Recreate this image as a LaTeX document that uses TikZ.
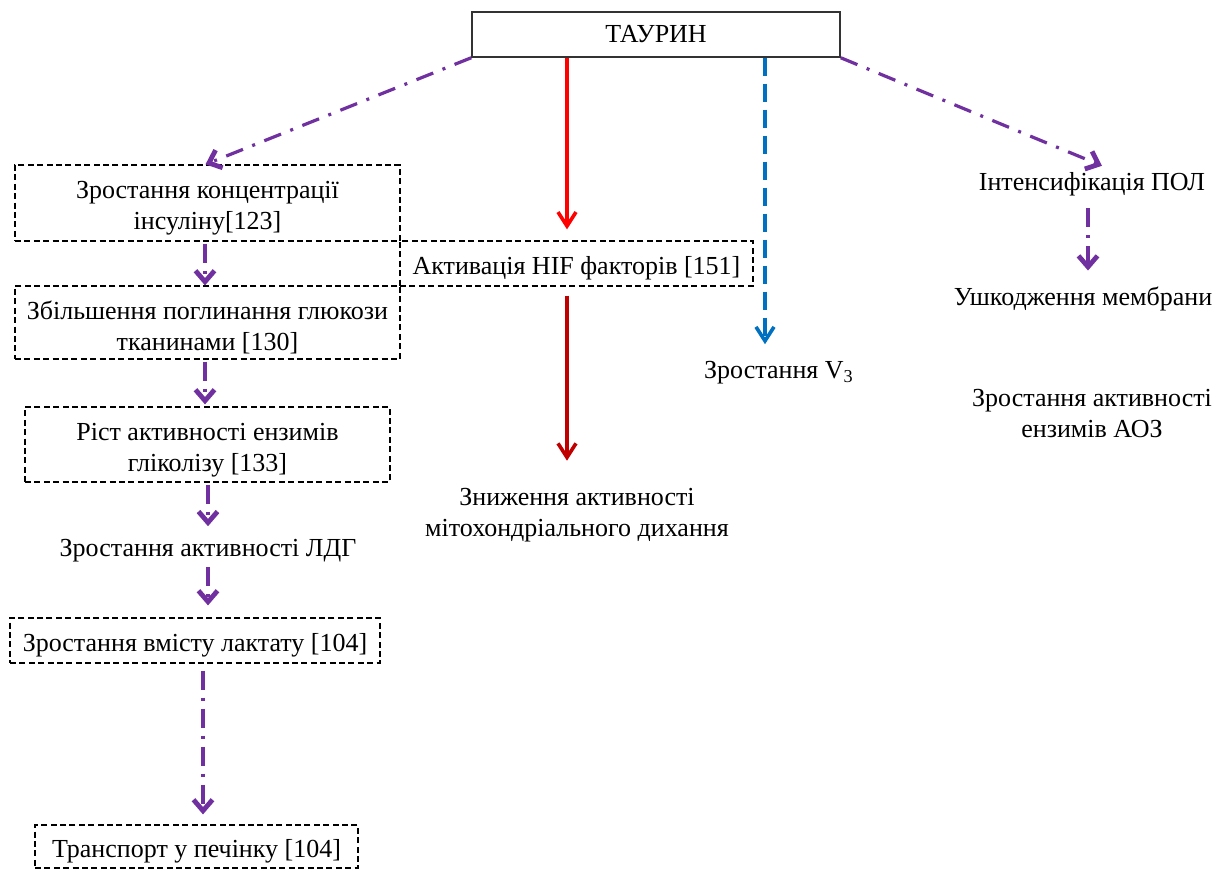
\documentclass[tikz,border=0pt]{standalone}
\usepackage{fontspec}
\setmainfont{Liberation Serif}
\usetikzlibrary{arrows.meta}
\definecolor{cPurple}{HTML}{7030A0}
\definecolor{cRed}{HTML}{FF0000}
\definecolor{cDarkRed}{HTML}{C00000}
\definecolor{cBlue}{HTML}{0070C0}
\begin{document}
\begin{tikzpicture}[x=0.5pt,y=-0.5pt,
  font=\fontsize{13}{15.5}\selectfont,
  dbox/.style={draw, dash pattern=on 3pt off 1.7pt, line width=0.6pt, inner sep=0pt, align=center},
  lift/.style={execute at begin node={\rule{0pt}{#1}}},
  plain/.style={inner sep=1pt, align=center},
  tip/.style={-{Straight Barb[length=5.5pt,width=9.5pt,line width=2.4pt]}},
  purpleline/.style={cPurple, line width=1.6pt, dash pattern=on 9pt off 5pt on 1.5pt off 5pt, tip},
  purpleshort/.style={cPurple, line width=1.6pt, dash pattern=on 9.5pt off 4pt on 1.5pt off 4pt, tip},
  redline/.style={line width=1.6pt, -{Straight Barb[length=7pt,width=9pt,line width=1.8pt]}},
  blueline/.style={cBlue, line width=1.6pt, dash pattern=on 9pt off 4pt, -{Straight Barb[length=7pt,width=9pt,line width=1.8pt]}}]
\useasboundingbox (0,0) rectangle (1227,870);

% central source
\node[draw=black!80, line width=0.75pt, minimum width=184pt, minimum height=22.5pt, inner sep=0pt] (taurin) at (656,34.5) {ТАУРИН};

% left chain
\node[dbox, lift=29.5pt, minimum width=192.5pt, minimum height=38pt] (insulin) at (207.5,203)
  {Зростання концентрації\\інсуліну[123]};
\node[dbox, lift=14pt, minimum width=176.5pt, minimum height=22.5pt] (hif) at (576.5,263.5)
  {Активація HIF факторів [151]};
\node[dbox, lift=29.5pt, minimum width=192.5pt, minimum height=36.5pt] (glucose) at (207.5,322.5)
  {Збільшення поглинання глюкози\\тканинами [130]};
\node[dbox, lift=29.5pt, minimum width=182.5pt, minimum height=37.5pt] (glycolysis) at (207.5,444.5)
  {Ріст активності ензимів\\гліколізу [133]};
\node[plain] (ldh) at (208,551) {Зростання активності ЛДГ};
\node[dbox, lift=14pt, minimum width=185pt, minimum height=22.5pt] (lactate) at (195,640.5)
  {Зростання вмісту лактату [104]};
\node[dbox, lift=14pt, minimum width=161.5pt, minimum height=21.5pt] (liver) at (196.5,846.5)
  {Транспорт у печінку [104]};

% middle and right branches
\node[plain] (resp) at (577,515) {Зниження активності\\мітохондріального дихання};
\node[plain] (v3) at (779,373) {Зростання V\textsubscript{3}};
\node[plain] (pol) at (1092,184) {Інтенсифікація ПОЛ};
\node[plain] (membrane) at (1083,299) {Ушкодження мембрани};
\node[plain] (aoz) at (1092,414) {Зростання активності\\ензимів АОЗ};

% guide lines for vertical connectors
\coordinate (redx) at (567,0);
\coordinate (bluex) at (765,0);
\coordinate (polx) at (1088,0);

% connectors from the source
\draw[purpleline] (taurin.south west) -- ([xshift=-1pt]insulin.north);
\draw[redline, cRed] (taurin.south -| redx) -- ([yshift=5.5pt]hif.north -| redx);
\draw[blueline] (taurin.south -| bluex) -- ([yshift=7.5pt]v3.north -| bluex);
\draw[purpleline] (taurin.south east) -- ([xshift=5pt,yshift=2pt]pol.north);

% left chain connectors
\draw[purpleshort] ([yshift=-1pt]insulin.south -| 205,0) -- (glucose.north -| 205,0);
\draw[purpleshort] ([yshift=-1pt]glucose.south -| 205,0) -- ([yshift=1pt]glycolysis.north -| 205,0);
\draw[purpleshort] ([yshift=-1pt]glycolysis.south -| 208,0) -- ([yshift=5.5pt]ldh.north -| 208,0);
\draw[purpleshort] ([yshift=-1pt]ldh.south -| 208,0) -- ([yshift=6pt]lactate.north -| 208,0);
\draw[purpleshort] ([yshift=-3.5pt]lactate.south -| 203,0) -- ([yshift=5pt]liver.north -| 203,0);

% middle and right connectors
\draw[redline, cDarkRed] ([yshift=-4.5pt]hif.south -| redx) -- ([yshift=12.5pt]resp.north -| redx);
\draw[purpleshort] ([yshift=-5pt]pol.south -| polx) -- ([yshift=7pt]membrane.north -| polx);
\end{tikzpicture}
\end{document}
